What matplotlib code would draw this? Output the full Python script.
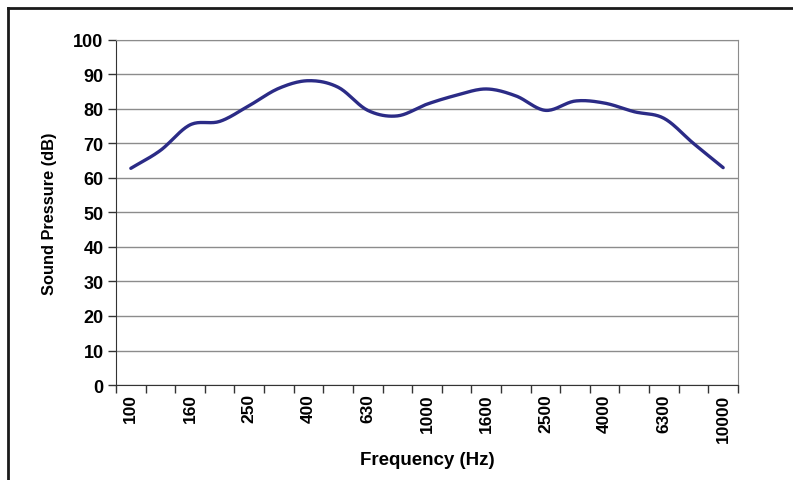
import numpy as np
import matplotlib.pyplot as plt
from matplotlib.lines import Line2D

# 1/3-octave bands and measured level
freqs = ["100", "125", "160", "200", "250", "315", "400", "500", "630", "800",
         "1000", "1250", "1600", "2000", "2500", "3150", "4000", "5000",
         "6300", "8000", "10000"]
spl = [62.8, 68.0, 75.4, 76.4, 81.0, 86.0, 88.2, 86.3, 79.6, 78.0,
       81.4, 84.0, 85.8, 83.8, 79.6, 82.3, 81.7, 79.2, 77.3, 70.0, 63.0]


def smooth(x, y, n=20):
    # catmull-rom through the points, like the spreadsheet "smoothed line"
    x = np.asarray(x, float)
    y = np.asarray(y, float)
    px = np.concatenate([[2 * x[0] - x[1]], x, [2 * x[-1] - x[-2]]])
    py = np.concatenate([[2 * y[0] - y[1]], y, [2 * y[-1] - y[-2]]])
    xs, ys = [], []
    t = np.linspace(0, 1, n, endpoint=False)
    for i in range(1, len(px) - 2):
        for p, out in ((px, xs), (py, ys)):
            p0, p1, p2, p3 = p[i - 1], p[i], p[i + 1], p[i + 2]
            out.extend(0.5 * (2 * p1 + (-p0 + p2) * t
                              + (2 * p0 - 5 * p1 + 4 * p2 - p3) * t ** 2
                              + (-p0 + 3 * p1 - 3 * p2 + p3) * t ** 3))
    xs.append(x[-1])
    ys.append(y[-1])
    return np.array(xs), np.array(ys)


plt.rcParams['font.family'] = ['Liberation Sans', 'DejaVu Sans']
plt.rcParams['font.weight'] = 'bold'

fig = plt.figure(figsize=(7.93, 4.81), dpi=100)
ax = fig.add_axes([0.1463, 0.1975, 0.7843, 0.7173])

idx = np.arange(len(freqs))
sx, sy = smooth(idx, spl)
ax.plot(sx, sy, color='#2B2B86', lw=2.4, solid_capstyle='round', zorder=3)

ax.set_xlim(-0.5, len(freqs) - 0.5)
ax.set_ylim(0, 100)
ax.set_yticks(np.arange(0, 101, 10))
ax.yaxis.grid(True, color='#8C8C8C', lw=1.0)
ax.set_axisbelow(True)

# category ticks at boundaries, labels every other band
ax.set_xticks(np.arange(-0.5, len(freqs), 1))
ax.set_xticklabels([])
ax.set_xticks(idx[::2], minor=True)
ax.set_xticklabels(freqs[::2], minor=True, rotation=90, fontsize=12.5, fontweight='bold')
ax.tick_params(axis='x', which='minor', length=0, pad=6)
ax.tick_params(axis='x', which='major', length=6, width=1, color='#333333', direction='out')
ax.tick_params(axis='y', length=6, width=1, color='#333333', labelsize=13, pad=3)

for side in ['top', 'right']:
    ax.spines[side].set_color('#8C8C8C')
for side in ['left', 'bottom']:
    ax.spines[side].set_color('#333333')

ax.set_ylabel('Sound Pressure (dB)', fontsize=11.8, fontweight='bold', labelpad=12)
ax.set_xlabel('Frequency (Hz)', fontsize=13.5, fontweight='bold', labelpad=7)

# outer frame (left and top edges)
fig.add_artist(Line2D([0.0105, 0.0105], [0.0, 0.982], transform=fig.transFigure,
                      color='#1A1A1A', lw=2))
fig.add_artist(Line2D([0.0105, 1.0], [0.982, 0.982], transform=fig.transFigure,
                      color='#1A1A1A', lw=2))

fig.savefig('out.png', dpi=100)
